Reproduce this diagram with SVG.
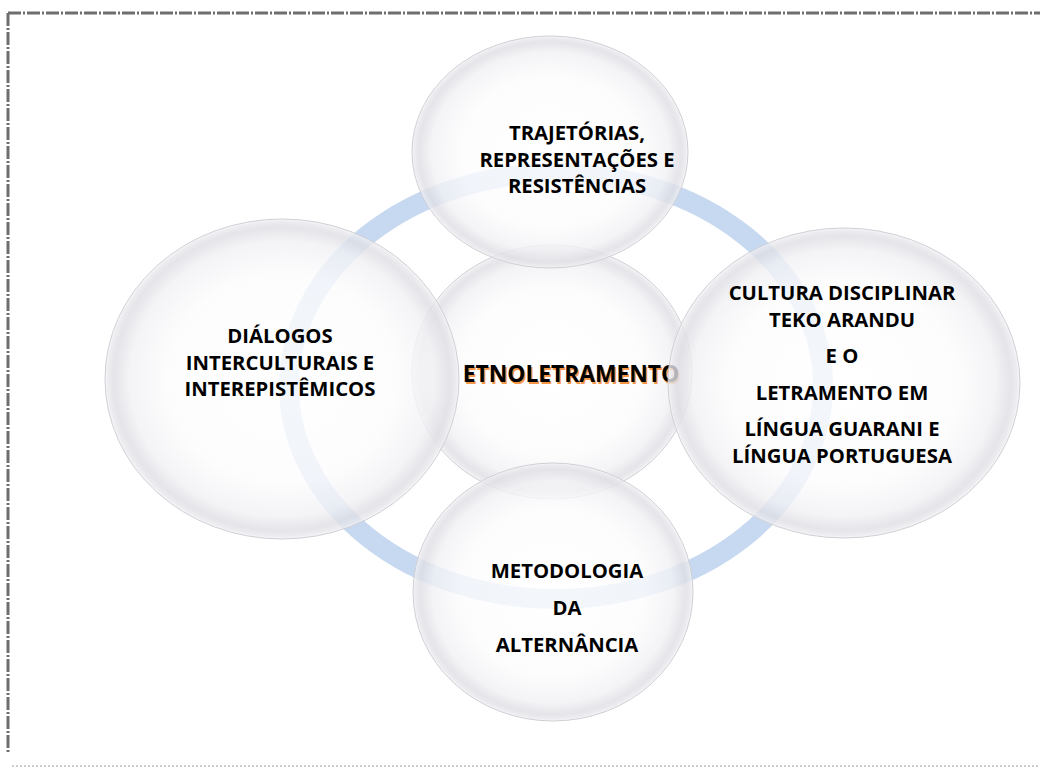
<svg xmlns="http://www.w3.org/2000/svg" width="1045" height="767" viewBox="0 0 1045 767">
<defs>
<radialGradient id="glass" cx="50%" cy="50%" r="50%">
<stop offset="0" stop-color="#ffffff"/>
<stop offset="0.65" stop-color="#fcfcfd"/>
<stop offset="0.86" stop-color="#f1f1f4"/>
<stop offset="0.95" stop-color="#dedee4"/>
<stop offset="0.985" stop-color="#e9e9ed"/>
<stop offset="1" stop-color="#f7f7f9"/>
</radialGradient>
<style>
.c{fill:url(#glass);fill-opacity:0.8;stroke:#cfcfd5;stroke-width:1}
.t{font-family:"Open Sans","Liberation Sans",sans-serif;font-weight:bold;font-size:20.3px;fill:#000;text-anchor:middle}
.big{font-size:22.8px}
.sh{fill:#f79646}
.frame{fill:none;stroke:#6e6e6e;stroke-width:3;stroke-dasharray:13 2 2 2}
</style>
</defs>
<rect width="1045" height="767" fill="#ffffff"/>
<g id="frame">
<line class="frame" x1="8" y1="13" x2="1040" y2="13"/>
<line class="frame" x1="8" y1="13" x2="8" y2="752"/>
<line x1="12" y1="766" x2="1040" y2="766" stroke="#9a9a9a" stroke-width="1" stroke-dasharray="2 2"/>
</g>
<g id="connectors">
<ellipse cx="556" cy="386" rx="267" ry="213" fill="none" stroke="#c6d9f1" stroke-width="20"/>
</g>
<g id="node-center">
<ellipse class="c" cx="552" cy="372" rx="140" ry="127"/>
<text class="t big sh" x="572.5" y="383.5">ETNOLETRAMENTO</text>
<text class="t big" x="571" y="382">ETNOLETRAMENTO</text>
</g>
<g id="node-top">
<ellipse class="c" cx="550" cy="152" rx="138" ry="116"/>
<text class="t" x="577" y="140">TRAJETÓRIAS,</text>
<text class="t" x="577" y="167">REPRESENTAÇÕES E</text>
<text class="t" x="577" y="193">RESISTÊNCIAS</text>
</g>
<g id="node-left">
<ellipse class="c" cx="282" cy="379" rx="177" ry="160"/>
<text class="t" x="280" y="343">DIÁLOGOS</text>
<text class="t" x="280" y="370">INTERCULTURAIS E</text>
<text class="t" x="280" y="396">INTEREPISTÊMICOS</text>
</g>
<g id="node-right">
<ellipse class="c" cx="844" cy="383" rx="176" ry="155"/>
<text class="t" x="842" y="300">CULTURA DISCIPLINAR</text>
<text class="t" x="842" y="327">TEKO ARANDU</text>
<text class="t" x="842" y="363">E O</text>
<text class="t" x="842" y="400">LETRAMENTO EM</text>
<text class="t" x="842" y="436">LÍNGUA GUARANI E</text>
<text class="t" x="842" y="463">LÍNGUA PORTUGUESA</text>
</g>
<g id="node-bottom">
<ellipse class="c" cx="553" cy="592" rx="140" ry="129"/>
<text class="t" x="567" y="578">METODOLOGIA</text>
<text class="t" x="567" y="615">DA</text>
<text class="t" x="567" y="652">ALTERNÂNCIA</text>
</g>
</svg>
